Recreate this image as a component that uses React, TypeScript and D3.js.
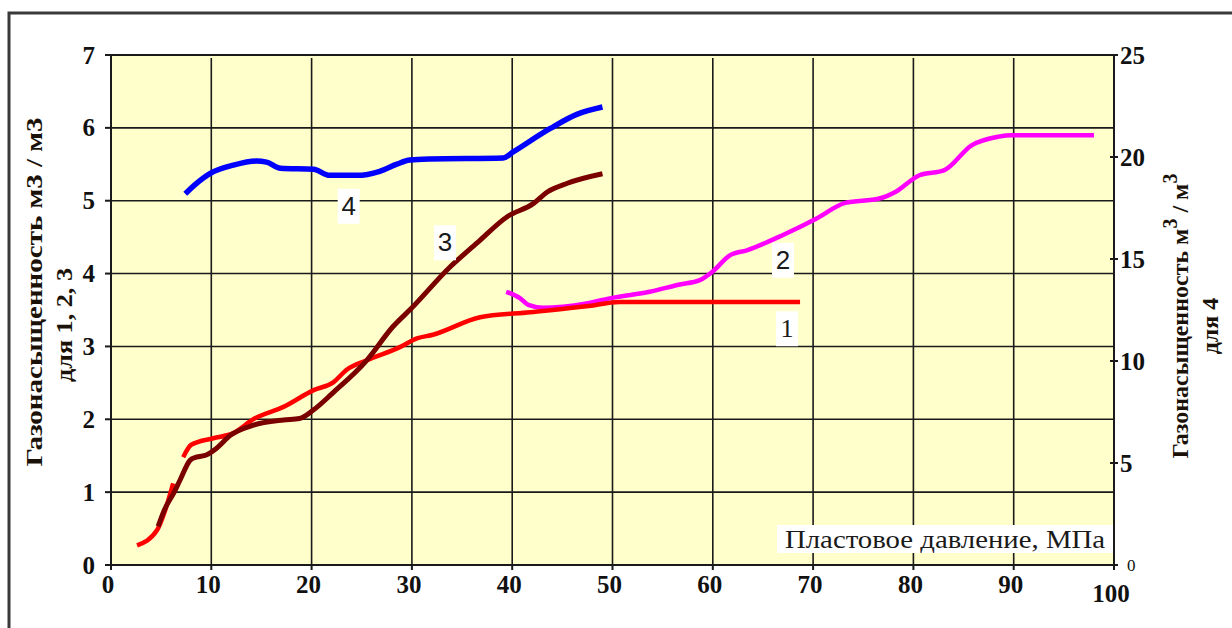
import React from "react";
import * as d3 from "d3";

// ---------- data ----------
const xTicks = [0, 10, 20, 30, 40, 50, 60, 70, 80, 90, 100];
const xTickLabels = ["0", "10", "20", "30", "40", "50", "60", "70", "80", "90", "100"];
const yLeftTicks = [0, 1, 2, 3, 4, 5, 6, 7];
const yRightTicks = [0, 5, 10, 15, 20, 25];

// curve 1 (red), left axis; NaN marks a gap
const s1X = [2.6, 4.6, 5.3, 6.2, NaN, 7.2, 8.0, 10.2, 12.2, 14.3, 17.2, 20.2, 22.2, 23.5, 25.5, 28.8, 30.5, 32.1, 36.8, 41.8, 47.4, 50.7, 68.7];
const s1Y = [0.27, 0.48, 0.71, 1.12, NaN, 1.48, 1.65, 1.74, 1.81, 2.01, 2.17, 2.40, 2.51, 2.68, 2.81, 2.99, 3.11, 3.16, 3.40, 3.47, 3.55, 3.61, 3.61];

// curve 2 (magenta), left axis
const s2X = [39.4, 40.8, 41.6, 43.1, 47.4, 50.1, 53.7, 56.7, 58.7, 60.0, 61.7, 63.4, 67.0, 70.4, 73.2, 76.6, 78.2, 80.6, 83.1, 85.8, 88.5, 89.8, 98.0];
const s2Y = [3.75, 3.66, 3.57, 3.53, 3.59, 3.67, 3.75, 3.85, 3.91, 4.03, 4.25, 4.32, 4.53, 4.76, 4.97, 5.03, 5.12, 5.35, 5.42, 5.76, 5.88, 5.90, 5.90];

// curve 3 (brown), left axis
const s3X = [4.7, 5.3, 6.3, 6.9, 7.9, 8.5, 9.5, 10.5, 11.9, 14.2, 17.2, 18.8, 20.2, 22.1, 25.5, 28.1, 30.0, 33.8, 36.5, 39.5, 42.1, 43.5, 45.5, 49.0];
const s3Y = [0.53, 0.75, 1.0, 1.17, 1.44, 1.48, 1.51, 1.60, 1.78, 1.92, 1.99, 2.01, 2.13, 2.36, 2.81, 3.27, 3.53, 4.09, 4.42, 4.78, 4.96, 5.12, 5.24, 5.37];

// curve 4 (blue), right axis
const s4X = [7.4, 8.5, 9.9, 12.2, 14.5, 15.5, 16.9, 20.2, 21.8, 24.5, 26.8, 28.5, 29.8, 31.8, 39.1, 40.1, 43.8, 46.5, 49.0];
const s4Y = [18.2, 18.7, 19.2, 19.6, 19.8, 19.75, 19.45, 19.4, 19.1, 19.1, 19.3, 19.65, 19.85, 19.9, 19.95, 20.25, 21.4, 22.1, 22.45];

// curve labels (data coordinates, left axis)
const labelText = ["4", "3", "2", "1"];
const labelX = [23.7, 33.3, 67.0, 67.4];
const labelY = [4.93, 4.43, 4.19, 3.25];

const leftTitle1 = "Газонасыщенность м3 / м3";
const leftTitle2 = "для 1, 2, 3";
const rightTitle2 = "для 4";
const xTitle = "Пластовое давление, МПа";

export default function App() {
  const W = 1232, H = 628;
  const L = 111, R = 1114, T = 55, B = 565;
  const x = d3.scaleLinear().domain([0, 100]).range([L, R]);
  const yL = d3.scaleLinear().domain([0, 7]).range([B, T]);
  const yR = d3.scaleLinear().domain([0, 25]).range([B, T]);

  const mk = (xs: number[], ys: number[], sc: d3.ScaleLinear<number, number>) => {
    const pts = xs.map((v, i) => [v, ys[i]] as [number, number]);
    return d3
      .line<[number, number]>()
      .defined((d) => !isNaN(d[0]) && !isNaN(d[1]))
      .x((d) => x(d[0]))
      .y((d) => sc(d[1]))
      .curve(d3.curveMonotoneX)(pts) as string;
  };

  const serif = "'Liberation Serif', 'Times New Roman', serif";
  const sans = "'Liberation Sans', Arial, sans-serif";
  const grid = "#1a1a1a";

  return (
    <svg
      width={W}
      height={H}
      style={{ position: "absolute", left: 0, top: 0, background: "#fff" }}
    >
      {/* outer frame */}
      <rect x={9} y={13} width={1260} height={700} fill="none" stroke="#3a3a3a" strokeWidth={3} />

      {/* plot background */}
      <rect x={L} y={T} width={R - L} height={B - T} fill="#ffffcc" />

      {/* vertical grid */}
      {xTicks.slice(1, -1).map((t) => (
        <line key={"vg" + t} x1={x(t)} x2={x(t)} y1={T + 3} y2={B} stroke={grid} strokeWidth={1.6} />
      ))}
      {/* horizontal grid */}
      {yLeftTicks.slice(1, -1).map((t) => (
        <line key={"hg" + t} x1={L} x2={R} y1={yL(t)} y2={yL(t)} stroke={grid} strokeWidth={1.6} />
      ))}

      {/* plot border lines */}
      <line x1={L} x2={R} y1={T} y2={T} stroke={grid} strokeWidth={2} />
      <line x1={L} x2={L} y1={T} y2={B} stroke={grid} strokeWidth={2} />
      <line x1={L} x2={R + 1} y1={B} y2={B} stroke={grid} strokeWidth={2} />
      <line x1={R} x2={R} y1={T} y2={B + 1} stroke={grid} strokeWidth={2} />

      {/* ticks */}
      {yLeftTicks.map((t) => (
        <line key={"lt" + t} x1={L - 6} x2={L} y1={yL(t)} y2={yL(t)} stroke={grid} strokeWidth={2} />
      ))}
      {yRightTicks.map((t) => (
        <line key={"rt" + t} x1={R - 4} x2={R + 4} y1={yR(t)} y2={yR(t)} stroke={grid} strokeWidth={2} />
      ))}
      {xTicks.map((t) => (
        <line key={"xt" + t} x1={x(t)} x2={x(t)} y1={B} y2={B + 5} stroke={grid} strokeWidth={2} />
      ))}

      {/* curves */}
      <path d={mk(s2X, s2Y, yL)} fill="none" stroke="#ff00ff" strokeWidth={4.5} />
      <path d={mk(s1X, s1Y, yL)} fill="none" stroke="#ff0000" strokeWidth={4.5} />
      <path d={mk(s3X, s3Y, yL)} fill="none" stroke="#7a0000" strokeWidth={5} />
      <path d={mk(s4X, s4Y, yR)} fill="none" stroke="#0000ff" strokeWidth={5.5} />

      {/* curve labels */}
      {labelText.map((s, i) => (
        <g key={"lab" + s}>
          <rect x={x(labelX[i]) - 11} y={yL(labelY[i]) - 17} width={22} height={35} fill="#fff" />
          <text
            x={x(labelX[i])}
            y={yL(labelY[i])}
            textAnchor="middle"
            dominantBaseline="central"
            fontFamily={s === "1" ? serif : sans}
            fontSize={26}
            fill="#1a1a1a"
          >
            {s}
          </text>
        </g>
      ))}

      {/* x axis title box */}
      <rect x={777} y={525} width={336} height={28} fill="#fff" />
      <text x={785} y={548} fontFamily={serif} fontSize={26} textLength={320} lengthAdjust="spacingAndGlyphs" fill="#1a1a1a">
        {xTitle}
      </text>

      {/* left tick labels */}
      {yLeftTicks.map((t) => (
        <text key={"ll" + t} x={95} y={yL(t)} textAnchor="end" dominantBaseline="central" fontFamily={serif} fontWeight="bold" fontSize={25} fill="#111">
          {t}
        </text>
      ))}
      {/* right tick labels */}
      {yRightTicks.map((t) =>
        t === 0 ? (
          <text key={"rl" + t} x={1127} y={yR(t)} dominantBaseline="central" fontFamily={serif} fontSize={17} fill="#111">
            {t}
          </text>
        ) : (
          <text key={"rl" + t} x={1120} y={yR(t)} dominantBaseline="central" fontFamily={serif} fontWeight="bold" fontSize={25} fill="#111">
            {t}
          </text>
        )
      )}
      {/* bottom tick labels */}
      {xTicks.map((t, i) => (
        <text key={"bl" + t} x={x(t) - 3} y={t === 100 ? 602 : 593} textAnchor="middle" fontFamily={serif} fontWeight="bold" fontSize={25} fill="#111">
          {xTickLabels[i]}
        </text>
      ))}

      {/* left axis title */}
      <g transform="translate(34,292) rotate(-90)">
        <text x={0} y={0} textAnchor="middle" dominantBaseline="central" fontFamily={serif} fontWeight="bold" fontSize={24} textLength={349} lengthAdjust="spacingAndGlyphs" fill="#1a1208">
          {leftTitle1}
        </text>
      </g>
      <g transform="translate(64,325) rotate(-90)">
        <text x={0} y={0} textAnchor="middle" dominantBaseline="central" fontFamily={serif} fontWeight="bold" fontSize={24} textLength={114} lengthAdjust="spacingAndGlyphs" fill="#1a1208">
          {leftTitle2}
        </text>
      </g>

      {/* right axis title */}
      <g transform="translate(1180,316) rotate(-90)">
        <text x={0} y={0} textAnchor="middle" dominantBaseline="central" fontFamily={serif} fontWeight="bold" fontSize={24} fill="#1a1208">
          <tspan>Газонасыщенность м</tspan>
          <tspan dy={-10} fontSize={20}>3</tspan>
          <tspan dy={10}> / м</tspan>
          <tspan dy={-10} fontSize={20}>3</tspan>
        </text>
      </g>
      <g transform="translate(1210,326) rotate(-90)">
        <text x={0} y={0} textAnchor="middle" dominantBaseline="central" fontFamily={serif} fontWeight="bold" fontSize={24} fill="#1a1208">
          {rightTitle2}
        </text>
      </g>
    </svg>
  );
}
